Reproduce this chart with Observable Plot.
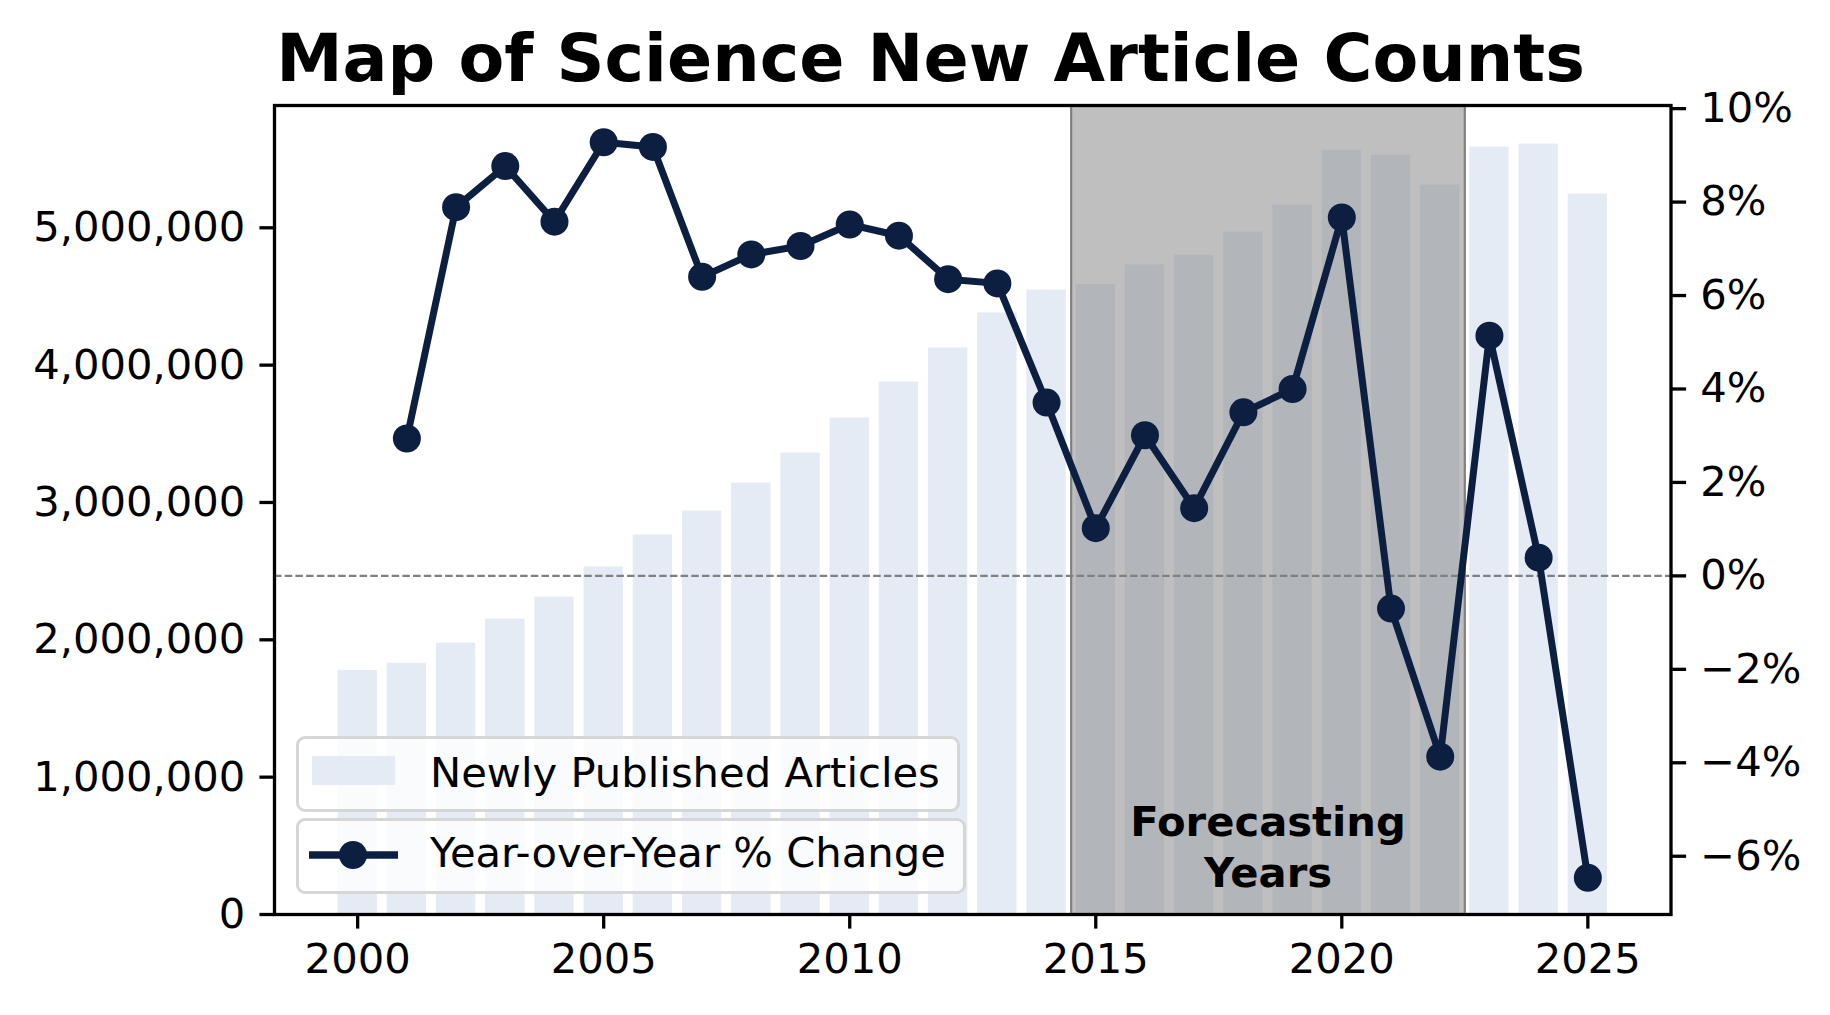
<!DOCTYPE html>
<html>
<head>
<meta charset="utf-8">
<script src="https://cdn.jsdelivr.net/npm/d3@7"></script>
<script src="https://cdn.jsdelivr.net/npm/@observablehq/plot@0.6"></script>
<style>
  html, body { margin: 0; padding: 0; background: #fff; }
  body { width: 1830px; height: 1015px; overflow: hidden; font-family: "DejaVu Sans", sans-serif; }
  #wrap { position: relative; width: 1830px; height: 1015px; }
  #title { position: absolute; left: 0; top: 0; width: 1861px; height: 90px; box-sizing: border-box;
    padding-top: 25px; text-align: center; font-weight: bold; font-size: 66.7px; line-height: 1; color: #000; }
  .layer { position: absolute; left: 0; top: 60px; }
  .legend { position: absolute; left: 296px; box-sizing: border-box; border: 3px solid #d6d6d6;
    border-radius: 9px; background: rgba(255,255,255,0.8); font-size: 41.7px; color: #000; }
  .legend svg { position: absolute; left: 0; top: 0; }
  .legend span { position: absolute; white-space: nowrap; line-height: 1; }
</style>
</head>
<body>
<div id="wrap">
  <div id="title">Map of Science New Article Counts</div>
  <div id="base" class="layer"></div>
  <div id="over" class="layer"></div>
  <div class="legend" style="top:736px;width:664px;height:76px;">
    <svg width="664" height="76"><rect x="13" y="17" width="83" height="29" fill="#e4ebf5"></rect></svg>
    <span style="left:131px;top:13px;">Newly Published Articles</span>
  </div>
  <div class="legend" style="top:818px;width:670px;height:76px;">
    <svg width="670" height="76"><line x1="10" x2="99" y1="34" y2="34" stroke="#0c1f41" stroke-width="7.5"></line><circle cx="54" cy="34" r="14" fill="#0c1f41"></circle></svg>
    <span style="left:131px;top:11px;">Year-over-Year % Change</span>
  </div>
</div>
<script>
// ---- data ----
const years = [2000, 2001, 2002, 2003, 2004, 2005, 2006, 2007, 2008, 2009, 2010, 2011, 2012,
               2013, 2014, 2015, 2016, 2017, 2018, 2019, 2020, 2021, 2022, 2023, 2024, 2025];
const articleCounts = [1777000, 1830000, 1976000, 2151000, 2311000, 2530000, 2763000, 2937000,
                       3141000, 3360000, 3615000, 3877000, 4125000, 4380000, 4547000, 4588000,
                       4730000, 4800000, 4969000, 5166000, 5565000, 5529000, 5311000, 5588000,
                       5610000, 5246000];
const yoyYears = years.slice(1);
const yoyPct = [2.94, 7.89, 8.77, 7.58, 9.28, 9.18, 6.40, 6.88, 7.06, 7.52, 7.28, 6.35, 6.26,
                3.71, 1.02, 3.01, 1.45, 3.50, 4.00, 7.67, -0.70, -3.87, 5.14, 0.39, -6.46];
const forecastSpan = [2014.5, 2022.5];
const forecastLabel = "Forecasting\nYears";
const leftTicks = [0, 1000000, 2000000, 3000000, 4000000, 5000000];
const rightTicks = [-6, -4, -2, 0, 2, 4, 6, 8, 10];
const xTicks = [2000, 2005, 2010, 2015, 2020, 2025];

// ---- tables ----
const bars = years.map((year, i) => ({year, count: articleCounts[i]}));
const yoy = yoyYears.map((year, i) => ({year, pct: yoyPct[i]}));
const span = [{start: forecastSpan[0], end: forecastSpan[1]}];

// ---- matplotlib-like autoscale domains ----
const halfW = 0.4;
const xmin = d3.min(years) - halfW, xmax = d3.max(years) + halfW;
const xpad = 0.05 * (xmax - xmin);
const xDomain = [xmin - xpad, xmax + xpad];
const yDomain = [0, d3.max(articleCounts) * 1.05];
const pmin = d3.min(yoyPct), pmax = d3.max(yoyPct), ppad = 0.05 * (pmax - pmin);
const pDomain = [pmin - ppad, pmax + ppad];

const W = 1830, H = 955;
const margins = {marginTop: 45, marginBottom: 101, marginLeft: 274, marginRight: 159.5};
const FS = 41.7, NAVY = "#0c1f41";
const fmtPct = d => (d < 0 ? "\u2212" : "") + Math.abs(d) + "%";

const base = Plot.plot({
  width: W, height: H, ...margins,
  style: {fontFamily: "DejaVu Sans", fontSize: FS + "px", color: "#000", background: "transparent"},
  x: {domain: xDomain},
  y: {domain: yDomain},
  marks: [
    Plot.rectY(bars, {x1: d => d.year - halfW, x2: d => d.year + halfW, y: "count", fill: "#e4ebf5"}),
    Plot.rect(span, {x1: "start", x2: "end", fill: "#808080", fillOpacity: 0.5}),
    Plot.ruleX(span, {x: "start", stroke: "#808080", strokeWidth: 2.2}),
    Plot.ruleX(span, {x: "end", stroke: "#808080", strokeWidth: 2.2}),
    Plot.axisY({ticks: leftTicks, tickFormat: d3.format(","), tickSize: 14.6, tickPadding: 14.6,
                strokeWidth: 3.3, fontSize: FS, label: null}),
    Plot.axisX({ticks: xTicks, tickFormat: d => String(d), tickSize: 14.6, tickPadding: 14.6,
                strokeWidth: 3.3, fontSize: FS, label: null})
  ]
});
document.getElementById("base").appendChild(base);

const over = Plot.plot({
  width: W, height: H, ...margins,
  style: {fontFamily: "DejaVu Sans", fontSize: FS + "px", color: "#000", background: "transparent"},
  x: {domain: xDomain, axis: null},
  y: {domain: pDomain, axis: null},
  marks: [
    Plot.ruleY([0], {stroke: "#808080", strokeWidth: 2.2, strokeDasharray: "7.5,3.2"}),
    Plot.text([forecastLabel], {x: (forecastSpan[0] + forecastSpan[1]) / 2, frameAnchor: "bottom",
               lineAnchor: "bottom", dy: -28, fontWeight: "bold", fontSize: FS, lineHeight: 1.2,
               fill: "#000", text: d => d}),
    Plot.line(yoy, {x: "year", y: "pct", stroke: NAVY, strokeWidth: 7}),
    Plot.dot(yoy, {x: "year", y: "pct", r: 14, fill: NAVY, stroke: null}),
    Plot.axisY({anchor: "right", ticks: rightTicks, tickFormat: fmtPct, tickSize: 14.6, tickPadding: 14.6,
                strokeWidth: 3.3, fontSize: FS, label: null}),
    Plot.frame({stroke: "#000", strokeWidth: 3.3})
  ]
});
document.getElementById("over").appendChild(over);
</script>
</body>
</html>
